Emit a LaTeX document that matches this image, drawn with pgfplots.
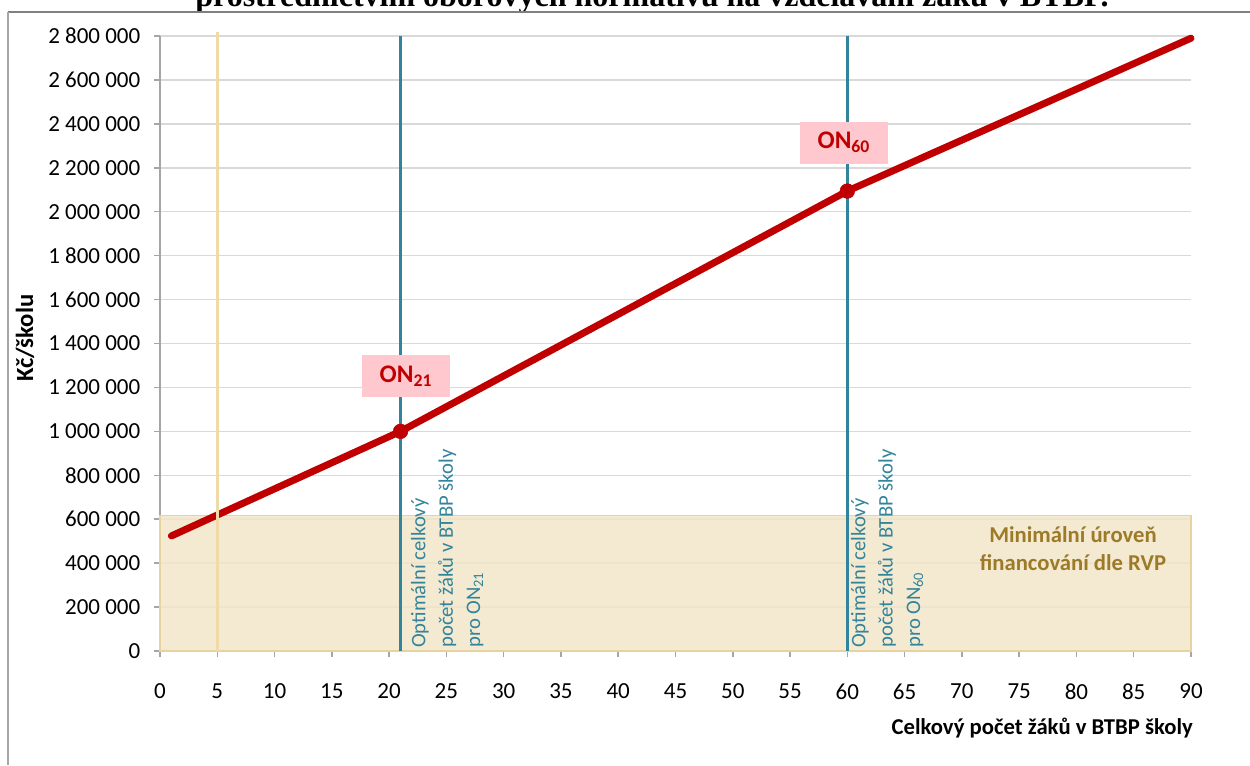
\documentclass[border=0pt]{standalone}
\usepackage{pgfplots}
\pgfplotsset{compat=1.18}
\usepackage{fontspec}
\setmainfont{Carlito}
\newfontfamily\titlefont{Liberation Serif}
\definecolor{cred}{HTML}{C00000}
\definecolor{cteal}{HTML}{31849B}
\definecolor{ctan}{HTML}{F0DAA8}
\definecolor{cband}{HTML}{F2E6CA}
\definecolor{cbandedge}{HTML}{E6D39F}
\definecolor{cpink}{HTML}{FFC7CE}
\definecolor{cgold}{HTML}{9C7A28}
\definecolor{cgrid}{HTML}{D9D9D9}
\definecolor{caxis}{HTML}{A6A6A6}
\begin{document}
\begin{tikzpicture}
\path[use as bounding box] (0,0) rectangle (937.5pt,573.75pt);
\clip (0,0) rectangle (937.5pt,573.75pt);
\node[anchor=base, inner sep=0pt, font=\titlefont\bfseries\fontsize{24}{28}\selectfont] at (489pt,568.5pt) {prostřednictvím oborových normativů na vzdělávání žáků v BTBP.};
\draw[color=gray, line width=1.5pt] (6pt,564.75pt) -- (937.5pt,564.75pt);
\draw[color=caxis, line width=1.1pt] (6pt,564.75pt) -- (6pt,0pt);
\begin{axis}[
  at={(120pt,85.5pt)}, anchor=south west,
  scale only axis, width=773.25pt, height=461.25pt,
  xmin=0, xmax=90, ymin=0, ymax=2800000,
  xtick={0,5,...,90},
  ytick={0,200000,400000,600000,800000,1000000,1200000,1400000,1600000,1800000,2000000,2200000,2400000,2600000,2800000},
  yticklabels={0,200 000,400 000,600 000,800 000,1 000 000,1 200 000,1 400 000,1 600 000,1 800 000,2 000 000,2 200 000,2 400 000,2 600 000,2 800 000},
  scaled y ticks=false,
  axis x line*=bottom, axis y line*=left,
  axis line style={draw=caxis, line width=1.1pt, -},
  tick align=outside, major tick length=4.5pt,
  tick style={draw=caxis, line width=1.1pt},
  ymajorgrids, grid style={draw=cgrid, line width=1.1pt},
  ticklabel style={font=\fontsize{17.25}{20}\selectfont, text=black},
  xticklabel style={yshift=-16.5pt},
  yticklabel style={xshift=-6.75pt},
  /pgf/number format/assume math mode=true,
  clip=false,
  xlabel={Celkový počet žáků v BTBP školy},
  xlabel style={at={(axis description cs:1.002,-0.1252)}, anchor=east, inner sep=0pt, font=\bfseries\fontsize{17}{20}\selectfont},
  ylabel={Kč/školu},
  ylabel style={at={(axis description cs:-0.1309,0.509)}, anchor=center, inner sep=0pt, font=\bfseries\fontsize{18.5}{21}\selectfont},
]
\addplot[draw=cbandedge, line width=1pt, fill=cband, fill opacity=0.85, forget plot] coordinates {(0,618000) (90,618000)} \closedcycle;
\addplot[cteal, line width=2.25pt, forget plot] coordinates {(21,0) (21,2800000)};
\addplot[cteal, line width=2.25pt, forget plot] coordinates {(60,0) (60,2800000)};
\addplot[cred, line width=5.25pt, line cap=round, line join=round, forget plot] coordinates {(1,524000) (21,1000000) (60,2094000) (90,2790000)};
\addplot[only marks, mark=*, mark size=5.5pt, cred, forget plot] coordinates {(21,1000000) (60,2094000)};
\addplot[ctan, line width=2.5pt, forget plot] coordinates {(5,0) (5,2818000)};
\node[fill=cpink, text=cred, font=\bfseries\fontsize{19}{22}\selectfont, minimum width=66pt, minimum height=31.5pt, inner sep=0pt] at (axis cs:21.47,1252000) {ON\textsubscript{21}};
\node[fill=cpink, text=cred, font=\bfseries\fontsize{19}{22}\selectfont, minimum width=66pt, minimum height=31.5pt, inner sep=0pt] at (axis cs:59.7,2315000) {ON\textsubscript{60}};
\node[rotate=90, anchor=north west, align=left, text=cteal, font=\fontsize{15.5}{20.5}\selectfont, inner sep=0pt] at (axis cs:21.9,13700) {Optimální celkový\\počet žáků v BTBP školy\\pro ON\textsubscript{21}};
\node[rotate=90, anchor=north west, align=left, text=cteal, font=\fontsize{15.5}{20.5}\selectfont, inner sep=0pt] at (axis cs:60.3,13700) {Optimální celkový\\počet žáků v BTBP školy\\pro ON\textsubscript{60}};
\node[align=center, text=cgold, font=\bfseries\fontsize{17}{21}\selectfont] at (axis cs:79.7,464000) {Minimální úroveň\\financování dle RVP};
\end{axis}
\end{tikzpicture}
\end{document}
